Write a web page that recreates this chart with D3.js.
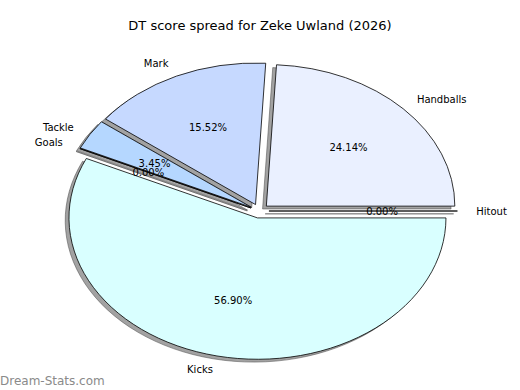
<!DOCTYPE html>
<html>
<head>
<meta charset="utf-8">
<script src="https://cdn.jsdelivr.net/npm/d3@7"></script>
<style>
  body { margin: 0; background: #fff; }
  svg { display: block; font-family: "DejaVu Sans", sans-serif; }
</style>
</head>
<body>
<script>
const categories = ["Handballs", "Mark", "Tackle", "Goals", "Kicks", "Hitout"]
const scores = [14, 9, 2, 0, 33, 0]
const sliceColors = ["#eaf0ff", "#c6d9ff", "#b5d7ff", "#b5d7ff", "#d9ffff", "#eaf0ff"]

const width = 520
const height = 390
const cx = 259.5, cy = 211
const rx = 188.5, ry = 141.5
const explode = 0.05

const svg = d3.select("body").append("svg")
  .attr("width", width)
  .attr("height", height)

svg.append("text")
  .attr("x", 260)
  .attr("y", 25)
  .attr("text-anchor", "middle")
  .attr("dominant-baseline", "central")
  .attr("font-size", 13)
  .text("DT score spread for Zeke Uwland (2026)")

// matplotlib style: start at 3 o'clock, go counter-clockwise
const pie = d3.pie().sort(null).value(d => d.value)
  .startAngle(Math.PI / 2)
  .endAngle(Math.PI / 2 - 2 * Math.PI)

const data = categories.map((c, i) => ({ name: c, value: scores[i], color: sliceColors[i] }))
const arcs = pie(data)
const total = d3.sum(scores)

arcs.forEach(d => {
  d.mid = (d.startAngle + d.endAngle) / 2
  d.ox = cx + explode * rx * Math.sin(d.mid)
  d.oy = cy - explode * ry * Math.cos(d.mid)
})

const arc = d3.arc().innerRadius(0).outerRadius(1)

// shadows first, under all wedges
svg.append("g").selectAll("path")
  .data(arcs)
  .join("path")
  .attr("transform", d => `translate(${d.ox - 0.02 * rx},${d.oy + 0.02 * ry}) scale(${rx},${ry})`)
  .attr("d", arc)
  .attr("fill", "#454545")
  .attr("stroke", "#454545")
  .attr("fill-opacity", 0.5)
  .attr("stroke-opacity", 0.5)
  .attr("stroke-width", 1)
  .attr("vector-effect", "non-scaling-stroke")

svg.append("g").selectAll("path")
  .data(arcs)
  .join("path")
  .attr("transform", d => `translate(${d.ox},${d.oy}) scale(${rx},${ry})`)
  .attr("d", arc)
  .attr("fill", d => d.data.color)
  .attr("stroke", "#000")
  .attr("stroke-width", 0.8)
  .attr("vector-effect", "non-scaling-stroke")

svg.append("g").selectAll("text")
  .data(arcs)
  .join("text")
  .attr("x", d => d.ox + 1.1 * rx * Math.sin(d.mid))
  .attr("y", d => d.oy - 1.1 * ry * Math.cos(d.mid))
  .attr("text-anchor", d => Math.sin(d.mid) > 1e-9 ? "start" : "end")
  .attr("dominant-baseline", "central")
  .attr("font-size", 10)
  .text(d => d.data.name)

svg.append("g").selectAll("text")
  .data(arcs)
  .join("text")
  .attr("x", d => d.ox + 0.6 * rx * Math.sin(d.mid))
  .attr("y", d => d.oy - 0.6 * ry * Math.cos(d.mid))
  .attr("text-anchor", "middle")
  .attr("dominant-baseline", "central")
  .attr("font-size", 10)
  .text(d => d3.format(".2f")(d.value / total * 100) + "%")

svg.append("text")
  .attr("x", 0)
  .attr("y", 385)
  .attr("font-size", 12)
  .attr("fill", "#8a8a8a")
  .text("Dream-Stats.com")
</script>
</body>
</html>
